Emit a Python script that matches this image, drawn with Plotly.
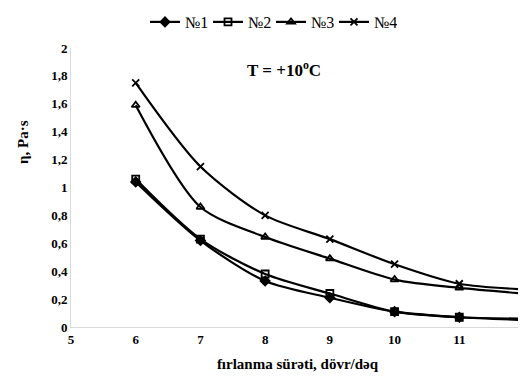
import plotly.graph_objects as go

x = [6, 7, 8, 9, 10, 11, 12]
s1 = [1.04, 0.62, 0.33, 0.21, 0.11, 0.07, 0.05]
s2 = [1.06, 0.63, 0.38, 0.24, 0.11, 0.07, 0.06]
s3 = [1.59, 0.86, 0.645, 0.49, 0.34, 0.28, 0.24]
s4 = [1.75, 1.15, 0.80, 0.63, 0.45, 0.31, 0.27]
names = ["№1", "№2", "№3", "№4"]
symbols = ["diamond", "square-open", "triangle-up-open", "x-thin"]

FONT = "Liberation Serif"
fig = go.Figure()
for name, ys, sym in zip(names, [s1, s2, s3, s4], symbols):
    fig.add_trace(go.Scatter(
        x=x, y=ys, name=name, mode="lines+markers",
        line=dict(color="black", width=2.2, shape="spline", smoothing=0.8),
        marker=dict(symbol=sym, size=7, color="black",
                    line=dict(color="black", width=1.8)),
        cliponaxis=False,
    ))

L, R, T, B = 63, 10, 40, 62
PW, PH = 526 - L - R, 381 - T - B

fig.update_layout(
    width=526, height=381,
    margin=dict(l=L, r=R, t=T, b=B, autoexpand=False),
    paper_bgcolor="white", plot_bgcolor="white",
    separators=", ",
    font=dict(family=FONT, color="black"),
    showlegend=True,
    legend=dict(orientation="h", x=0.5, xref="container", xanchor="center",
                y=1 - 14 / 381, yref="container", yanchor="middle",
                font=dict(size=16, family=FONT),
                entrywidth=18, entrywidthmode="pixels",
                tracegroupgap=0, bgcolor="rgba(0,0,0,0)"),
    xaxis=dict(range=[5, 12], dtick=1, showgrid=False, zeroline=False,
               showline=True, linecolor="#d9d9d9", linewidth=1,
               ticks="", ticklabeloverflow="allow",
               tickfont=dict(size=13, family=FONT, weight="bold"),
               title=dict(text="<b>fırlanma sürəti, dövr/dəq</b>",
                          font=dict(size=15, family=FONT), standoff=12)),
    yaxis=dict(range=[0, 2], dtick=0.2, showgrid=False, zeroline=False,
               showline=True, linecolor="#d9d9d9", linewidth=1,
               ticks="", tickfont=dict(size=13, family=FONT, weight="bold"),
               tickformat="~r"),
    annotations=[
        dict(text="<b>T = +10<sup>o</sup>C</b>", x=0.47, y=0.97,
             xref="paper", yref="paper", showarrow=False,
             font=dict(size=17, family=FONT)),
        dict(text="<b>η, Pa·s</b>", x=(15 - L) / PW, y=(319 - 134) / PH,
             xref="paper", yref="paper", xanchor="center", yanchor="middle",
             showarrow=False, textangle=-90, font=dict(size=15, family=FONT)),
    ],
)
fig.write_html("out.html")
